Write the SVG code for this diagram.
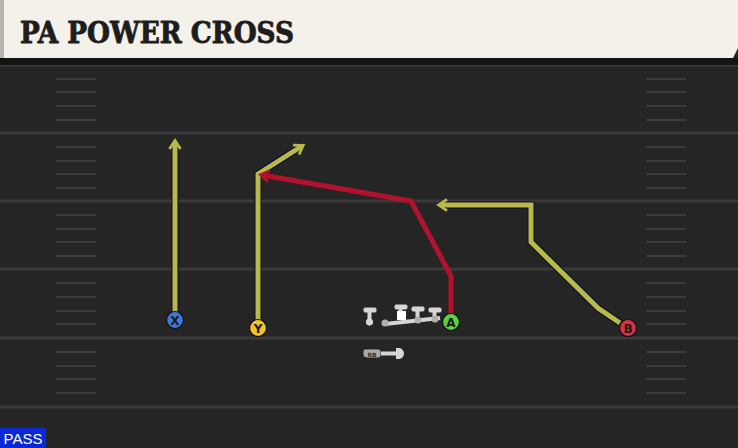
<svg xmlns="http://www.w3.org/2000/svg" width="738" height="448" viewBox="0 0 738 448">
<defs>
<style>
.yl{stroke:#3a3a3a;stroke-width:3}
.hash{stroke:#3b3b3b;stroke-width:2}
.rt{fill:none;stroke-width:5;stroke-linejoin:miter;stroke-linecap:butt}
.yel{stroke:#b8b84c}
.red{stroke:#b3122f}
.out{fill:none;stroke:#0b0f1e;stroke-width:7;stroke-linejoin:miter}
.lbl{font-family:"DejaVu Sans",sans-serif;font-weight:bold;font-size:12px;text-anchor:middle;fill:#1a1a1a}
.ol{fill:#d6d6d6;stroke:#d6d6d6}
</style>
<marker id="ay" viewBox="0 0 10 10" refX="6" refY="5" markerWidth="2.8" markerHeight="2.8" orient="auto" markerUnits="strokeWidth">
<path d="M1,1 L7,5 L1,9" fill="none" stroke="#b8b84c" stroke-width="2"/>
</marker>
<marker id="ar" viewBox="0 0 10 10" refX="6" refY="5" markerWidth="2.8" markerHeight="2.8" orient="auto" markerUnits="strokeWidth">
<path d="M1,1 L7,5 L1,9" fill="none" stroke="#b3122f" stroke-width="2"/>
</marker>
</defs>
<rect width="738" height="448" fill="#252525"/>
<g id="field">
<line class="yl" x1="0" y1="65" x2="738" y2="65"/>
<line class="yl" x1="0" y1="133" x2="738" y2="133"/>
<line class="yl" x1="0" y1="201" x2="738" y2="201"/>
<line class="yl" x1="0" y1="269" x2="738" y2="269"/>
<line class="yl" x1="0" y1="338" x2="738" y2="338"/>
<line class="yl" x1="0" y1="407" x2="738" y2="407"/>
<g class="hash">
<line x1="56" y1="79" x2="96" y2="79"/><line x1="56" y1="92" x2="96" y2="92"/><line x1="56" y1="106" x2="96" y2="106"/><line x1="56" y1="120" x2="96" y2="120"/>
<line x1="56" y1="147" x2="96" y2="147"/><line x1="56" y1="161" x2="96" y2="161"/><line x1="56" y1="174" x2="96" y2="174"/><line x1="56" y1="188" x2="96" y2="188"/>
<line x1="56" y1="215" x2="96" y2="215"/><line x1="56" y1="229" x2="96" y2="229"/><line x1="56" y1="242" x2="96" y2="242"/><line x1="56" y1="256" x2="96" y2="256"/>
<line x1="56" y1="283" x2="96" y2="283"/><line x1="56" y1="297" x2="96" y2="297"/><line x1="56" y1="311" x2="96" y2="311"/><line x1="56" y1="324" x2="96" y2="324"/>
<line x1="56" y1="352" x2="96" y2="352"/><line x1="56" y1="366" x2="96" y2="366"/><line x1="56" y1="379" x2="96" y2="379"/><line x1="56" y1="393" x2="96" y2="393"/>
<line x1="646" y1="79" x2="686" y2="79"/><line x1="646" y1="92" x2="686" y2="92"/><line x1="646" y1="106" x2="686" y2="106"/><line x1="646" y1="120" x2="686" y2="120"/>
<line x1="646" y1="147" x2="686" y2="147"/><line x1="646" y1="161" x2="686" y2="161"/><line x1="646" y1="174" x2="686" y2="174"/><line x1="646" y1="188" x2="686" y2="188"/>
<line x1="646" y1="215" x2="686" y2="215"/><line x1="646" y1="229" x2="686" y2="229"/><line x1="646" y1="242" x2="686" y2="242"/><line x1="646" y1="256" x2="686" y2="256"/>
<line x1="646" y1="283" x2="686" y2="283"/><line x1="646" y1="297" x2="686" y2="297"/><line x1="646" y1="311" x2="686" y2="311"/><line x1="646" y1="324" x2="686" y2="324"/>
<line x1="646" y1="352" x2="686" y2="352"/><line x1="646" y1="366" x2="686" y2="366"/><line x1="646" y1="379" x2="686" y2="379"/><line x1="646" y1="393" x2="686" y2="393"/>
</g>
</g>
<g id="header">
<rect x="0" y="58" width="738" height="7" fill="#141414"/>
<path d="M0,0 H738 V48 L733,58 H0 Z" fill="#f4f1ea"/>
<rect x="0" y="0" width="4" height="58" fill="#b5b5b1"/>
<text x="20" y="43" font-family="'DejaVu Serif',serif" font-weight="bold" font-stretch="condensed" font-size="30" textLength="274" lengthAdjust="spacingAndGlyphs" fill="#1d1d1d" stroke="#1d1d1d" stroke-width="0.8">PA POWER CROSS</text>
</g>
<g id="connectors">
<path class="out" d="M175,313 V142"/>
<path class="rt yel" d="M175,313 V142" marker-end="url(#ay)"/>
<path class="out" d="M258,320 V174 L302,146"/>
<path class="rt yel" d="M258,320 V174 L302,146" marker-end="url(#ay)"/>
<path class="out" d="M620,323 L598,308 L531,242 V205 H440"/>
<path class="rt yel" d="M620,323 L598,308 L531,242 V205 H440" marker-end="url(#ay)"/>
<path class="rt red" d="M451,315 V276 L411,201 L262,175" marker-end="url(#ar)"/>
</g>
<g id="line">
<g class="ol">
<rect x="364" y="308" width="12" height="4" rx="1"/><rect x="368" y="310" width="3" height="11"/><circle cx="369.5" cy="322" r="3.2"/>
<rect x="395" y="305" width="12" height="4" rx="1"/><rect x="399" y="307" width="3" height="10"/>
<rect x="412" y="307" width="12" height="4" rx="1"/><rect x="416" y="309" width="3" height="10"/>
<rect x="429" y="308" width="12" height="4" rx="1"/><rect x="433" y="310" width="3" height="9"/>
</g>
<path d="M385,324 L440,318" stroke="#d6d6d6" stroke-width="4" fill="none"/>
<circle cx="385" cy="323" r="3.5" fill="#b0b0b0"/>
<circle cx="418" cy="320" r="3.5" fill="#b0b0b0"/>
<circle cx="435" cy="319" r="3.5" fill="#b0b0b0"/>
<rect x="397" y="311" width="9" height="9" fill="#ffffff"/>
</g>
<g id="rb">
<path d="M365,349 H378 Q381,349 381,352 V355 Q381,358 378,358 H367 Q363,358 363,354 V352 Q363,349 365,349 Z" fill="#a9a9a9" stroke="#1a1a1a" stroke-width="0.8"/>
<text x="372" y="356.5" font-family="'DejaVu Sans',sans-serif" font-weight="bold" font-size="6" text-anchor="middle" fill="#333">RB</text>
<rect x="381" y="351.5" width="16" height="4" fill="#d6d6d6"/>
<path d="M396,348 H400 Q404,350 404,353.5 Q404,357 400,359 H396 Z" fill="#d6d6d6"/>
</g>
<g id="X"><circle cx="175" cy="320" r="8.5" fill="#3b78d8" stroke="#0b0f1e" stroke-width="1.2"/><text class="lbl" x="175" y="324.5">X</text></g>
<g id="Y"><circle cx="258" cy="328" r="8.5" fill="#f2c22c" stroke="#0b0f1e" stroke-width="1.2"/><text class="lbl" x="258" y="332.5">Y</text></g>
<g id="A"><circle cx="451" cy="322" r="8.5" fill="#5fcf3c" stroke="#0b0f1e" stroke-width="1.2"/><text class="lbl" x="451" y="326.5">A</text></g>
<g id="B"><circle cx="628" cy="328" r="8.5" fill="#e0303e" stroke="#0b0f1e" stroke-width="1.2"/><text class="lbl" x="628" y="332.5">B</text></g>
<g id="pass">
<rect x="0" y="428" width="46" height="20" fill="#0a28d8"/>
<text x="23" y="444" font-family="'Liberation Sans',sans-serif" font-size="15" text-anchor="middle" fill="#ffffff">PASS</text>
</g>
</svg>
